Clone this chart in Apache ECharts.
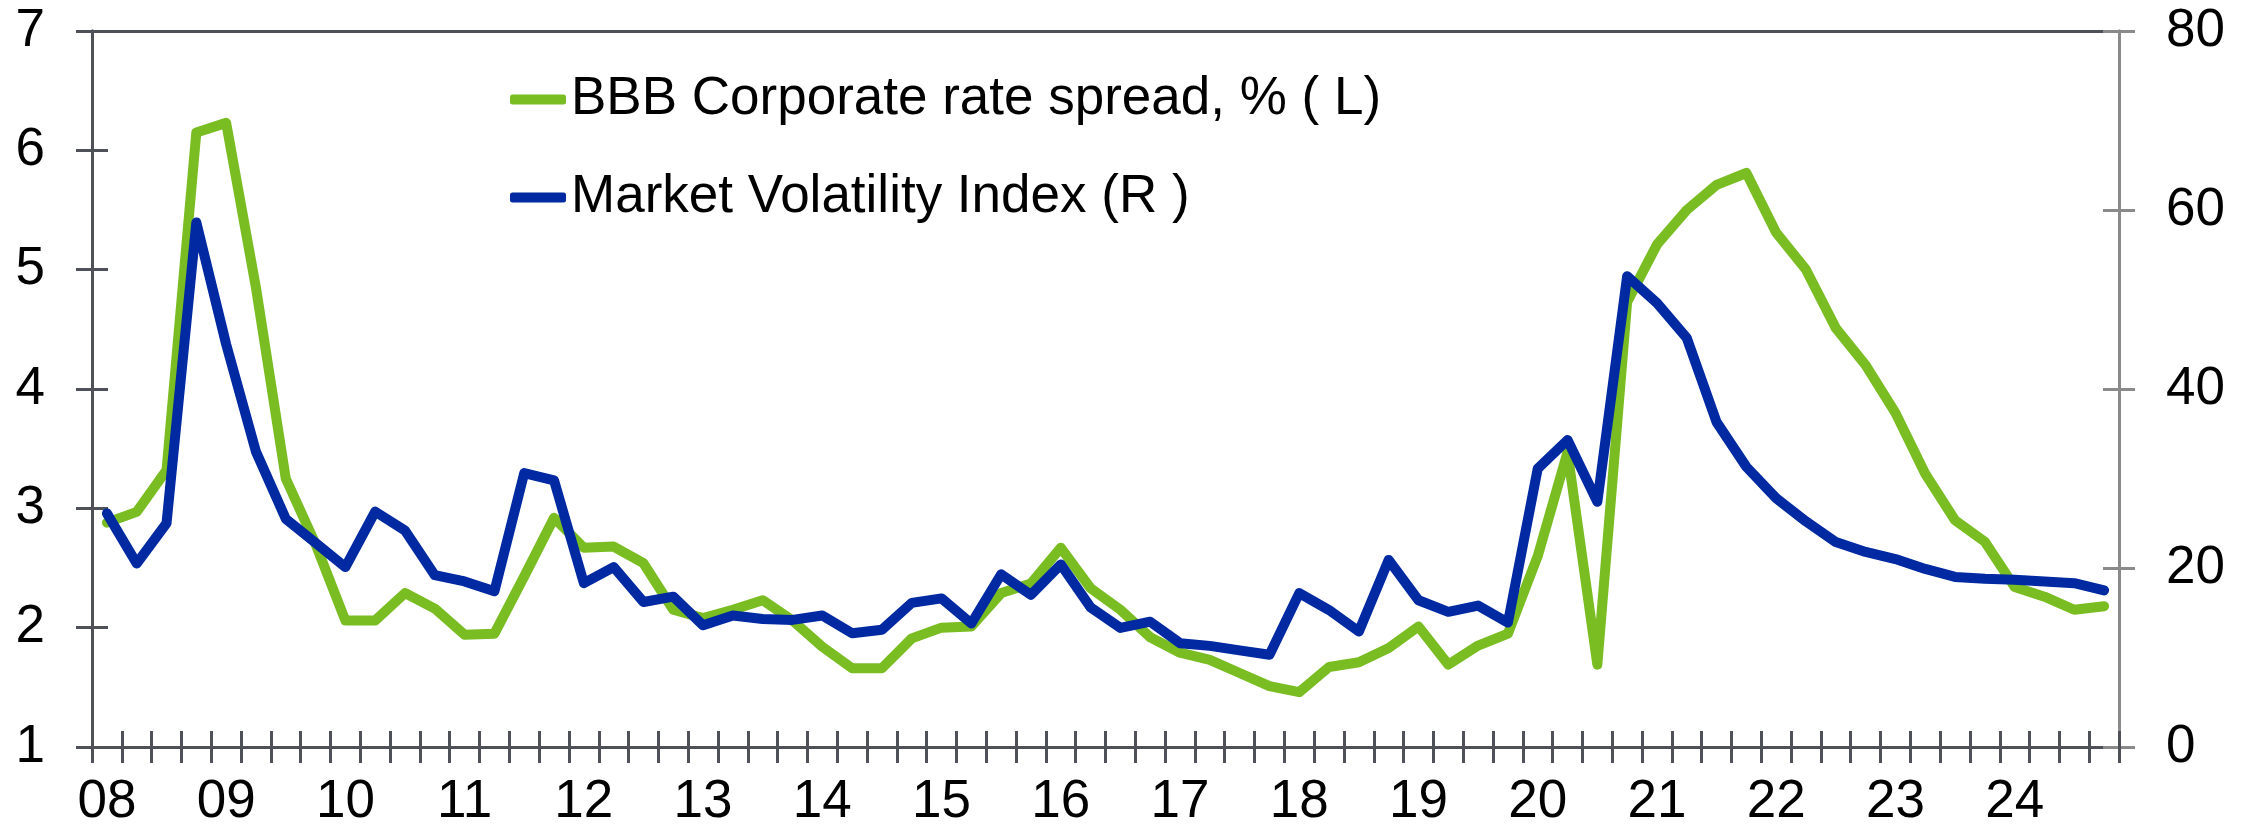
<!DOCTYPE html>
<html>
<head>
<meta charset="utf-8">
<script src="https://cdn.jsdelivr.net/npm/echarts@6/dist/echarts.min.js"></script>
<style>
html, body { margin: 0; padding: 0; background: #fff; }
#chart-1 { width: 2249px; height: 835px; }
</style>
</head>
<body>
<div id="chart-1"></div>
<script>
// quarterly data, 2008Q1 - 2024Q4
var years = ['08', '09', '10', '11', '12', '13', '14', '15', '16', '17', '18', '19', '20', '21', '22', '23', '24'];
var quarters = ['Q1', 'Q2', 'Q3', 'Q4'];

var spreadName = 'BBB Corporate rate spread, % ( L)';
var vixName = 'Market Volatility Index (R )';

var spreadData = [
    2.88, 2.97, 3.32, 6.15, 6.23, 4.85, 3.25, 2.70,
    2.06, 2.06, 2.29, 2.16, 1.94, 1.95, 2.43, 2.92,
    2.67, 2.68, 2.54, 2.15, 2.08, 2.15, 2.23, 2.06,
    1.84, 1.66, 1.66, 1.91, 2.00, 2.01, 2.29, 2.37,
    2.67, 2.33, 2.15, 1.92, 1.79, 1.73, 1.62, 1.51,
    1.46, 1.67, 1.71, 1.83, 2.01, 1.69, 1.85, 1.95,
    2.60, 3.47, 1.69, 4.73, 5.21, 5.50, 5.71, 5.81,
    5.31, 5.00, 4.51, 4.20, 3.80, 3.29, 2.90, 2.72,
    2.34, 2.26, 2.15, 2.18
];

var vixData = [
    26.1, 20.5, 25.0, 58.6, 45.0, 33.0, 25.5, 22.8,
    20.1, 26.3, 24.2, 19.2, 18.5, 17.4, 30.6, 29.8,
    18.3, 20.1, 16.2, 16.8, 13.6, 14.7, 14.3, 14.2,
    14.7, 12.7, 13.1, 16.1, 16.6, 13.8, 19.3, 17.0,
    20.4, 15.6, 13.3, 14.0, 11.6, 11.3, 10.8, 10.3,
    17.2, 15.3, 12.9, 20.9, 16.4, 15.1, 15.8, 13.9,
    31.1, 34.3, 27.4, 52.6, 49.6, 45.7, 36.3, 31.3,
    27.8, 25.2, 22.9, 21.8, 21.0, 19.9, 19.0, 18.8,
    18.7, 18.5, 18.3, 17.5
];

var categories = [];
years.forEach(function (y) {
    quarters.forEach(function (q) {
        categories.push(y + q);
    });
});

var font = "'Liberation Sans', Arial, sans-serif";
var axisDark = '#4e5258';
var axisGrey = '#8a8a8a';
var green = '#7abd22';
var blue = '#0029a2';

var dom = document.getElementById("chart-1");
var myChart = echarts.init(dom);

// the ticks cross the axis lines: a second, identical grid carries the inner half
var gridBox = { left: 92, right: 130, top: 31, bottom: 88 };

function tickStyle(color, inside) {
    return { show: true, interval: 0, inside: inside, length: 16, lineStyle: { color: color, width: 3 } };
}

var option = {
    animation: false,
    backgroundColor: '#fff',
    textStyle: { fontFamily: font },
    grid: [
        { left: gridBox.left, right: gridBox.right, top: gridBox.top, bottom: gridBox.bottom },
        { left: gridBox.left, right: gridBox.right, top: gridBox.top, bottom: gridBox.bottom }
    ],
    legend: {
        orient: 'vertical',
        left: 505,
        top: 68,
        icon: 'roundRect',
        itemWidth: 56,
        itemHeight: 10,
        itemGap: 45,
        data: [spreadName, vixName],
        textStyle: { fontSize: 53, color: '#000', fontFamily: font }
    },
    xAxis: [
        {
            type: 'category',
            gridIndex: 0,
            position: 'bottom',
            data: categories,
            boundaryGap: true,
            axisLine: { show: true, onZero: false, lineStyle: { color: axisDark, width: 3 } },
            axisTick: tickStyle(axisDark, false),
            axisLabel: {
                interval: 3,
                margin: 29,
                fontSize: 53,
                color: '#000',
                fontFamily: font,
                formatter: function (v) { return v.slice(0, 2); }
            },
            splitLine: { show: false }
        },
        {
            type: 'category',
            gridIndex: 1,
            position: 'bottom',
            data: categories,
            boundaryGap: true,
            axisLine: { show: true, onZero: false, lineStyle: { color: axisDark, width: 3 } },
            axisTick: tickStyle(axisDark, true),
            axisLabel: { show: false },
            splitLine: { show: false }
        },
        {
            type: 'category',
            gridIndex: 1,
            position: 'top',
            data: categories,
            axisLine: { show: true, onZero: false, lineStyle: { color: axisDark, width: 3 } },
            axisTick: { show: false },
            axisLabel: { show: false },
            splitLine: { show: false }
        }
    ],
    yAxis: [
        {
            type: 'value',
            gridIndex: 0,
            position: 'left',
            min: 1,
            max: 7,
            interval: 1,
            axisLine: { show: true, lineStyle: { color: axisDark, width: 3 } },
            axisTick: tickStyle(axisDark, false),
            axisLabel: { margin: 47, fontSize: 53, color: '#000', fontFamily: font },
            splitLine: { show: false }
        },
        {
            type: 'value',
            gridIndex: 0,
            position: 'right',
            min: 0,
            max: 80,
            interval: 20,
            axisLine: { show: true, lineStyle: { color: axisGrey, width: 3 } },
            axisTick: tickStyle(axisGrey, false),
            axisLabel: { margin: 47, fontSize: 53, color: '#000', fontFamily: font },
            splitLine: { show: false }
        },
        {
            type: 'value',
            gridIndex: 1,
            position: 'left',
            min: 1,
            max: 7,
            interval: 1,
            axisLine: { show: true, lineStyle: { color: axisDark, width: 3 } },
            axisTick: tickStyle(axisDark, true),
            axisLabel: { show: false },
            splitLine: { show: false }
        },
        {
            type: 'value',
            gridIndex: 1,
            position: 'right',
            min: 0,
            max: 80,
            interval: 20,
            axisLine: { show: true, lineStyle: { color: axisGrey, width: 3 } },
            axisTick: tickStyle(axisGrey, true),
            axisLabel: { show: false },
            splitLine: { show: false }
        }
    ],
    series: [
        {
            name: spreadName,
            type: 'line',
            xAxisIndex: 0,
            yAxisIndex: 0,
            symbol: 'none',
            color: green,
            lineStyle: { color: green, width: 10, cap: 'round', join: 'round' },
            data: spreadData,
            z: 3
        },
        {
            name: vixName,
            type: 'line',
            xAxisIndex: 0,
            yAxisIndex: 1,
            symbol: 'none',
            color: blue,
            lineStyle: { color: blue, width: 10, cap: 'round', join: 'round' },
            data: vixData,
            z: 4
        }
    ]
};

if (option && typeof option === "object") {
    myChart.setOption(option, true);
}
</script>
</body>
</html>
